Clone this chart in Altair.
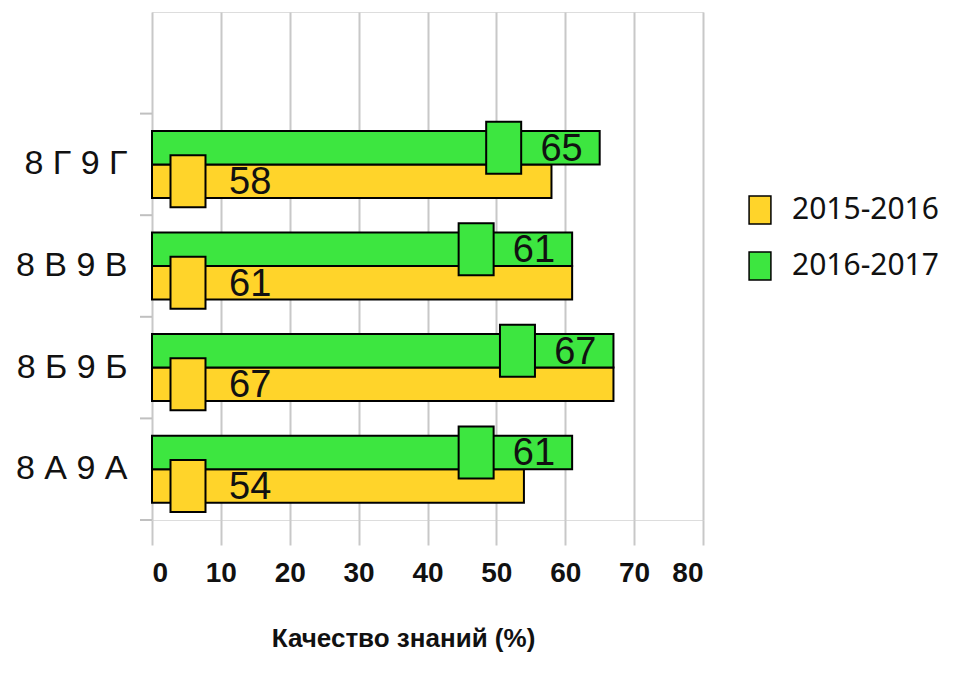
import altair as alt
import pandas as pd

categories = ["8 Г 9 Г", "8 В 9 В", "8 Б 9 Б", "8 А 9 А"]
series = ["2015-2016", "2016-2017"]
values_2015 = [58, 61, 67, 54]
values_2016 = [65, 61, 67, 61]
colors = ["#FFD42A", "#3DE640"]
x_ticks = [0, 10, 20, 30, 40, 50, 60, 70, 80]

blank = " "
y_domain = [blank] + categories

rows = []
for c, a, b in zip(categories, values_2015, values_2016):
    rows.append({"cat": c, "series": series[0], "value": a})
    rows.append({"cat": c, "series": series[1], "value": b})
df = pd.DataFrame(rows)
ticks_df = pd.DataFrame({"cat": y_domain})

FONT = "Liberation Sans"

y_enc = alt.Y("cat:N", scale=alt.Scale(domain=y_domain, paddingInner=0, paddingOuter=0),
              axis=alt.Axis(title=None, ticks=False, domain=False, grid=False,
                            labelFont=FONT, labelFontSize=34, labelColor="#111",
                            labelPadding=25, labelLimit=300))
yoff = alt.YOffset("series:N", scale=alt.Scale(domain=[series[1], series[0]],
                                                paddingOuter=0.516, paddingInner=0))
color = alt.Color("series:N", scale=alt.Scale(domain=series, range=colors),
                  legend=alt.Legend(title=None, orient="none", legendX=593, legendY=183,
                                    symbolType="M-0.78,-1H0.78V1H-0.78Z", symbolSize=784,
                                    symbolStrokeColor="black", symbolStrokeWidth=1.5,
                                    labelFont="Noto Sans", labelFontSize=30, labelColor="#111",
                                    labelOffset=17, rowPadding=22, labelLimit=300))
x_enc = alt.X("value:Q", scale=alt.Scale(domain=[0, 80], nice=False),
              axis=alt.Axis(values=x_ticks, title="Качество знаний (%)", grid=True,
                            gridColor="#c8c8c8", gridWidth=2, domain=False,
                            tickColor="#c8c8c8", tickSize=25, tickWidth=2,
                            labelFont=FONT, labelFontWeight="bold", labelFontSize=28,
                            labelColor="#111", labelPadding=14,
                            titleFont=FONT, titleFontWeight="bold", titleFontSize=26,
                            titleColor="#111", titlePadding=38,
                            titleX=251, titleAnchor="middle", titleAlign="center"))

base = alt.Chart(df)

bars = base.mark_bar(stroke="black", strokeWidth=2).encode(
    x=x_enc, y=y_enc, yOffset=yoff, color=color)

shape = "M-0.673,-1H0.673V1H-0.673Z"
sq_green = base.transform_filter(alt.datum.series == series[1]).mark_point(
    filled=True, shape=shape, size=2704, stroke="black", strokeWidth=2, opacity=1,
    xOffset=-96).encode(x="value:Q", y="cat:N", yOffset=yoff, color=color)
sq_yellow = base.transform_filter(alt.datum.series == series[0]).mark_point(
    filled=True, shape=shape, size=2704, stroke="black", strokeWidth=2, opacity=1,
    xOffset=36).encode(x=alt.datum(0), y="cat:N", yOffset=yoff, color=color)

txt_green = base.transform_filter(alt.datum.series == series[1]).mark_text(
    align="right", baseline="middle", dx=-17, dy=2, font=FONT, fontSize=38,
    color="#111").encode(x="value:Q", y="cat:N", yOffset=yoff, text="value:Q")
txt_yellow = base.transform_filter(alt.datum.series == series[0]).mark_text(
    align="left", baseline="middle", dx=77, dy=2, font=FONT, fontSize=38,
    color="#111").encode(x=alt.datum(0), y="cat:N", yOffset=yoff, text="value:Q")

tick_rules = alt.Chart(ticks_df).mark_rule(color="#c0c0c0", strokeWidth=2).encode(
    y=alt.Y("cat:N", bandPosition=1),
    x=alt.value(-12), x2=alt.value(0))

chart = alt.layer(bars, sq_green, sq_yellow, txt_green, txt_yellow, tick_rules).properties(
    width=551, height=508,
    padding={"left": 144, "top": 4, "right": 244, "bottom": 150},
    autosize=alt.AutoSizeParams(type="none"),
).configure_view(stroke="#c8c8c8", strokeWidth=2).configure(background="white")

chart.save("out.html", embed_options={"renderer": "svg", "actions": False})
